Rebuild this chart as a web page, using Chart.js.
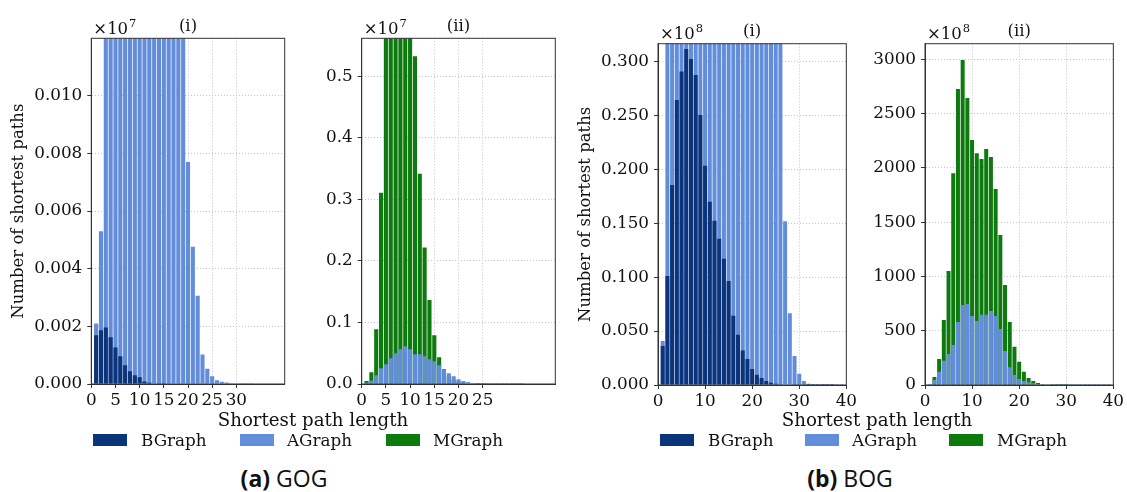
<!DOCTYPE html>
<html lang="en">
<head>
<meta charset="UTF-8">
<title>Shortest path length distributions – GOG / BOG</title>
<script src="https://cdn.jsdelivr.net/npm/chart.js"></script>
<style>
  body { margin: 0; background: #fff; width: 1127px; height: 492px; position: relative; overflow: hidden;
         font-family: "DejaVu Serif", serif; color: #111; }
  .panel { position: absolute; top: 0; height: 410px; }
  .lbl { position: absolute; font-size: 16.8px; line-height: 20px; white-space: nowrap; }
  .xt { transform: translateX(-50%); top: 410px; font-size: 18.2px; }
  .sw { position: absolute; width: 34px; height: 12px; top: 434px; }
  .cap { position: absolute; top: 463px; line-height: 30px; font-family: "Open Sans", sans-serif; font-size: 23px;
         transform: translateX(-50%); white-space: nowrap; }
</style>
</head>
<body>

<div class="panel" style="left:0;width:295px"><canvas id="gogI"></canvas></div>
<div class="panel" style="left:300px;width:265px"><canvas id="gogII"></canvas></div>
<div class="panel" style="left:570px;width:290px"><canvas id="bogI"></canvas></div>
<div class="panel" style="left:870px;width:257px"><canvas id="bogII"></canvas></div>

<!-- shared x labels -->
<div class="lbl xt" style="left:313px">Shortest path length</div>
<div class="lbl xt" style="left:877px">Shortest path length</div>

<!-- legends -->
<div class="sw" style="left:93px;background:#0c347a"></div><div class="lbl" style="left:141px;top:430px">BGraph</div>
<div class="sw" style="left:240px;background:#628ddb"></div><div class="lbl" style="left:287px;top:430px">AGraph</div>
<div class="sw" style="left:386px;background:#0c7a0c"></div><div class="lbl" style="left:433px;top:430px">MGraph</div>

<div class="sw" style="left:660px;background:#0c347a"></div><div class="lbl" style="left:708px;top:430px">BGraph</div>
<div class="sw" style="left:805px;background:#628ddb"></div><div class="lbl" style="left:852px;top:430px">AGraph</div>
<div class="sw" style="left:949px;background:#0c7a0c"></div><div class="lbl" style="left:997px;top:430px">MGraph</div>

<div class="cap" style="left:284px"><b>(a)</b> GOG</div>
<div class="cap" style="left:850px"><b>(b)</b> BOG</div>

<script>
  // shortest path length (x positions of the bars)
  const pathLength = [1, 2, 3, 4, 5, 6, 7, 8, 9, 10, 11, 12, 13, 14, 15, 16, 17, 18, 19, 20,
                      21, 22, 23, 24, 25, 26, 27, 28, 29, 30, 31, 32, 33, 34, 35, 36, 37, 38, 39];

  // GOG, values in units of 1e7
  const gogBGraph = [0.00169, 0.00186, 0.00196, 0.00162, 0.00127, 0.00096, 0.00065, 0.00044, 0.00030, 0.00023,
                     0.00009, 0.00004, 0.00002, 0.00001, 0.00001];
  const gogAGraph = [0.0021, 0.0053, 0.0141, 0.0255, 0.0320, 0.0417, 0.0499, 0.0564, 0.0612, 0.0564,
                     0.0482, 0.0482, 0.0450, 0.0401, 0.0369, 0.0304, 0.0228, 0.0173, 0.0125, 0.0077,
                     0.00476, 0.00306, 0.00102, 0.00053, 0.00027, 0.00013, 0.00008, 0.00005, 0.00003, 0.00002,
                     0.00001, 0.00001, 0.00001];
  const gogMGraph = [0.0049, 0.0190, 0.0889, 0.311, 0.62, 0.80, 0.88, 0.90, 0.84, 0.72,
                     0.533, 0.342, 0.222, 0.1366, 0.0791, 0.0434, 0.0238, 0.0120, 0.0070, 0.0040,
                     0.0020, 0.0010, 0.0005, 0.0002, 0.0001];

  // BOG, values in units of 1e8
  const bogBGraph = [0.0362, 0.1011, 0.1856, 0.2645, 0.2908, 0.3118, 0.3025, 0.2877, 0.2505, 0.2035,
                     0.1700, 0.1525, 0.1358, 0.1172, 0.0965, 0.0643, 0.0467, 0.0319, 0.0241, 0.0148,
                     0.0096, 0.0065, 0.0037, 0.0022, 0.0012, 0.0007, 0.0005, 0.0004, 0.0003, 0.0002,
                     0.0002, 0.0001, 0.0001, 0.0001, 0.0001, 0.0001, 0.0001];
  const bogAGraph = [0.0408, 46, 123, 224, 286, 368, 580, 737, 746, 636,
                     589, 648, 648, 682, 635, 516, 313, 163, 92, 55,
                     37, 25, 15, 8, 3, 1.2, 0.152, 0.0665, 0.0269, 0.0105,
                     0.0037, 0.0012, 0.0006, 0.0004, 0.0003, 0.0002, 0.0002, 0.0001, 0.0001];
  const bogMGraph = [0, 74, 240, 599, 1050, 1950, 2726, 2993, 2643, 2257,
                     2134, 2082, 2174, 2100, 1805, 1382, 921, 580, 353, 215,
                     123, 64, 37, 18, 8, 4, 2, 1, 1, 0.5];

  const colors = { BGraph: '#0c347a', AGraph: '#628ddb', MGraph: '#0c7a0c' };

  Chart.defaults.font.family = '"DejaVu Serif", serif';
  Chart.defaults.font.size = 16.8;
  Chart.defaults.color = '#111';

  function pts(values) {
    return values.map((v, i) => ({ x: pathLength[i], y: v }));
  }

  function bars(name, values) {
    return {
      label: name, data: pts(values), backgroundColor: colors[name],
      grouped: false, barPercentage: 1, categoryPercentage: 0.85, borderWidth: 0, clip: 0
    };
  }

  // box around the axes, panel title and the x10^n offset text
  const panelDecor = {
    id: 'panelDecor',
    afterDraw(chart, args, opts) {
      const { ctx, chartArea: a } = chart;
      ctx.save();
      ctx.strokeStyle = '#333';
      ctx.lineWidth = 1;
      ctx.strokeRect(a.left, a.top, a.right - a.left, a.bottom - a.top);
      ctx.fillStyle = '#111';
      ctx.font = '16.5px "DejaVu Serif"';
      ctx.textBaseline = 'alphabetic';
      ctx.textAlign = 'center';
      ctx.fillText(opts.title, (a.left + a.right) / 2, a.top - 7.5);
      ctx.textAlign = 'left';
      ctx.fillText('×10', a.left + 2, a.top - 4.5);
      const w = ctx.measureText('×10').width;
      ctx.font = '11.5px "DejaVu Serif"';
      ctx.fillText(opts.exponent, a.left + 3 + w, a.top - 11.5);
      ctx.restore();
    }
  };

  function panel(id, p) {
    new Chart(document.getElementById(id), {
      type: 'bar',
      data: { datasets: p.datasets },
      plugins: [panelDecor],
      options: {
        responsive: true,
        maintainAspectRatio: false,
        animation: false,
        layout: { padding: { top: p.top, right: p.right, bottom: 0, left: 0 } },
        plugins: {
          legend: { display: false },
          tooltip: { enabled: false },
          panelDecor: { title: p.title, exponent: p.exponent }
        },
        scales: {
          x: {
            type: 'linear', min: 0, max: 40, offset: false,
            grid: { offset: false, color: '#c4c4c4', tickColor: '#333', tickLength: 4, tickBorderDash: [] },
            border: { color: '#333', dash: [1, 2] },
            ticks: { stepSize: p.xStep, autoSkip: false, maxRotation: 0, padding: 3 },
            afterBuildTicks: ax => { ax.ticks = ax.ticks.filter(t => t.value <= p.xLast); },
            afterFit: ax => { ax.height = p.xAxisH; }
          },
          y: {
            min: 0, max: p.yMax,
            grid: { color: '#c4c4c4', tickColor: '#333', tickLength: 4, tickBorderDash: [] },
            border: { color: '#333', dash: [1, 2] },
            ticks: { padding: 5, autoSkip: false, callback: v => v.toFixed(p.yDigits) },
            // ticks every yStep from zero, without the clipped top value
            afterBuildTicks: ax => {
              const t = [];
              for (let k = 0; k * p.yStep <= p.yMax + 1e-12; k++) t.push({ value: +(k * p.yStep).toFixed(6) });
              ax.ticks = t;
            },
            title: { display: p.yTitle, text: 'Number of shortest paths', font: { size: 16.5 },
                     padding: { top: p.yTitlePad, bottom: 0 } },
            afterFit: ax => { ax.width = p.yAxisW; }
          }
        }
      }
    });
  }

  panel('gogI', {
    datasets: [bars('BGraph', gogBGraph), bars('AGraph', gogAGraph)],
    title: '(i)', exponent: '7', top: 38.3, right: 10.3, xAxisH: 26, yAxisW: 91.3,
    xStep: 5, xLast: 30, yMax: 0.01199, yStep: 0.002, yDigits: 3, yTitle: true, yTitlePad: 8.7
  });
  panel('gogII', {
    datasets: [bars('AGraph', gogAGraph), bars('MGraph', gogMGraph)],
    title: '(ii)', exponent: '7', top: 38.3, right: 9.7, xAxisH: 26, yAxisW: 61.7,
    xStep: 5, xLast: 25, yMax: 0.562, yStep: 0.1, yDigits: 1, yTitle: false, yTitlePad: 0
  });
  panel('bogI', {
    datasets: [bars('BGraph', bogBGraph), bars('AGraph', bogAGraph)],
    title: '(i)', exponent: '8', top: 43.7, right: 10.7, xAxisH: 25, yAxisW: 88,
    xStep: 10, xLast: 40, yMax: 0.3167, yStep: 0.05, yDigits: 3, yTitle: true, yTitlePad: 5.9
  });
  panel('bogII', {
    datasets: [bars('AGraph', bogAGraph), bars('MGraph', bogMGraph)],
    title: '(ii)', exponent: '8', top: 43.7, right: 11.3, xAxisH: 25, yAxisW: 55,
    xStep: 10, xLast: 40, yMax: 3144, yStep: 500, yDigits: 0, yTitle: false, yTitlePad: 0
  });
</script>
</body>
</html>
